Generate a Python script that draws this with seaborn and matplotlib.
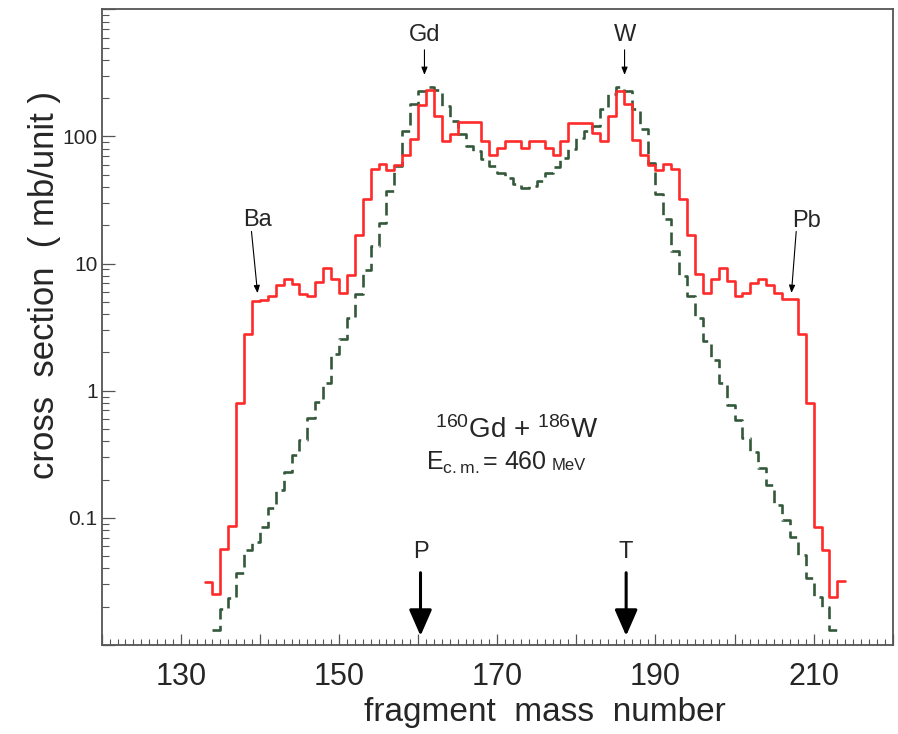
import numpy as np
import pandas as pd
import matplotlib
matplotlib.use("Agg")
import matplotlib.pyplot as plt
from matplotlib.ticker import FixedLocator, MultipleLocator, LogLocator, NullFormatter
import seaborn as sns

# ---------------- data ----------------
# measured (red, solid): bins of width 1, left edges at these mass numbers
red_mass = list(range(133, 214))
red_xs = [0.031, 0.025, 0.057, 0.086, 0.80, 2.8, 5.1, 5.2, 5.6, 6.8,
          7.6, 6.9, 5.8, 5.6, 7.2, 9.3, 7.6, 5.9, 8.1, 16.8,
          32.4, 55, 61, 54, 60, 72, 95, 178, 230, 145,
          92, 104, 130, 130, 130, 92, 72, 81, 92, 92,
          81, 92, 92, 81, 71, 92, 128, 128, 128, 107,
          92, 145, 228, 181, 94, 71, 60, 54, 61, 55,
          32, 16.8, 8.3, 5.9, 7.6, 9.3, 7.3, 5.6, 5.9, 7.0,
          7.5, 6.8, 5.9, 5.3, 5.3, 2.8, 0.80, 0.085, 0.056, 0.024,
          0.032]

# calculation (green, dashed)
calc_mass = list(range(134, 213))
calc_xs = [0.0131, 0.0192, 0.0234, 0.0367, 0.0557, 0.0643, 0.0844, 0.119, 0.165, 0.228,
           0.310, 0.406, 0.605, 0.808, 1.14, 1.96, 2.57, 3.76, 5.79, 8.94,
           13.8, 20.9, 37.3, 58.6, 110, 180, 227, 244, 231, 173,
           132, 104, 84, 77, 66.5, 58.6, 51.6, 47.1, 42.3, 39.4,
           40.8, 44.7, 51.6, 57.5, 67.7, 79.6, 97.1, 110, 121, 164,
           215, 244, 227, 164, 114, 61.8, 35.3, 22.5, 12.6, 8.02,
           5.59, 3.76, 2.48, 1.73, 1.16, 0.765, 0.584, 0.422, 0.327, 0.245,
           0.180, 0.126, 0.0957, 0.0704, 0.0509, 0.0336, 0.0238, 0.0199, 0.0131]

x_tick_values = [120, 130, 140, 150, 160, 170, 180, 190, 200, 210, 220]
x_tick_labels = ["", "130", "", "150", "", "170", "", "190", "", "210", ""]
y_tick_values = [0.01, 0.1, 1, 10, 100, 1000]
y_tick_labels = ["", "0.1", "1", "10", "100", ""]

# ---------------- styling ----------------
sns.set_theme(style="white")
plt.rcParams["font.family"] = ["Liberation Sans", "DejaVu Sans"]
plt.rcParams["mathtext.fontset"] = "custom"
plt.rcParams["mathtext.rm"] = "Liberation Sans"
plt.rcParams["mathtext.it"] = "Liberation Sans:italic"
plt.rcParams["mathtext.bf"] = "Liberation Sans:bold"

RED = "#ff2a2a"
GREEN = "#34593a"
SPINE = "#555555"

fig = plt.figure(figsize=(8.98, 7.34), dpi=100)
ax = fig.add_axes([0.1133, 0.1213, 0.9941 - 0.1133, 0.9873 - 0.1213])
ax.set_yscale("log")


def step_frame(mass, vals):
    # steps-post needs the right edge of the last bin repeated
    xs = list(mass) + [mass[-1] + 1]
    ys = list(vals) + [vals[-1]]
    return pd.DataFrame({"mass": xs, "xs": ys})


red_df = step_frame(red_mass, red_xs)
calc_df = step_frame(calc_mass, calc_xs)

sns.lineplot(data=calc_df, x="mass", y="xs", ax=ax, color=GREEN, lw=1.9,
             linestyle=(0, (4.8, 2.4)), drawstyle="steps-post",
             estimator=None, sort=False)
sns.lineplot(data=red_df, x="mass", y="xs", ax=ax, color=RED, lw=1.9,
             drawstyle="steps-post", estimator=None, sort=False)

ax.set_xlim(120, 220)
ax.set_ylim(0.01, 1000)

# ticks
ax.xaxis.set_major_locator(FixedLocator(x_tick_values))
ax.set_xticklabels(x_tick_labels)
ax.xaxis.set_minor_locator(MultipleLocator(1))
ax.yaxis.set_major_locator(FixedLocator(y_tick_values))
ax.set_yticklabels(y_tick_labels)
ax.yaxis.set_minor_locator(LogLocator(base=10, subs=np.arange(2, 10)))
ax.yaxis.set_minor_formatter(NullFormatter())

ax.tick_params(axis="x", which="major", direction="in", length=8, width=0.9,
               color=SPINE, labelsize=22, pad=12, bottom=True, top=False)
ax.tick_params(axis="x", which="minor", direction="in", length=4, width=0.8,
               color=SPINE, bottom=True, top=False)
ax.tick_params(axis="y", which="major", direction="in", length=9, width=0.9,
               color=SPINE, labelsize=15, pad=3, left=True, right=False)
ax.tick_params(axis="y", which="minor", direction="in", length=5, width=0.8,
               color=SPINE, left=True, right=False)

for s in ax.spines.values():
    s.set_visible(True)
    s.set_color(SPINE)
    s.set_linewidth(1.3)

ax.set_xlabel("fragment  mass  number", fontsize=24)
ax.xaxis.set_label_coords(0.5604, -0.082)
ax.set_ylabel("cross  section  ( mb/unit )", fontsize=25)
ax.yaxis.set_label_coords(-0.052, 0.566)

# element labels with thin arrows
thin = dict(arrowstyle="-|>,head_length=0.45,head_width=0.18", color="black",
            lw=0.8, mutation_scale=10, shrinkA=0, shrinkB=0)
ax.text(160.8, 560, "Gd", ha="center", va="baseline", fontsize=17)
ax.annotate("", xy=(160.8, 305), xytext=(160.8, 480), arrowprops=thin)
ax.text(186.1, 560, "W", ha="center", va="baseline", fontsize=17)
ax.annotate("", xy=(186.1, 305), xytext=(186.1, 480), arrowprops=thin)
ax.text(139.75, 19.8, "Ba", ha="center", va="baseline", fontsize=17)
ax.annotate("", xy=(139.7, 5.85), xytext=(138.93, 17.9), arrowprops=thin)
ax.text(209.1, 19.5, "Pb", ha="center", va="baseline", fontsize=17)
ax.annotate("", xy=(207.2, 5.88), xytext=(207.8, 17.9), arrowprops=thin)

# projectile / target markers
thick = dict(arrowstyle="-|>,head_length=0.8,head_width=0.35", color="black",
             lw=2.2, mutation_scale=20, shrinkA=0, shrinkB=0)
for m, lab in [(160, "P"), (186, "T")]:
    ax.text(m + 0.3, 0.0484, lab, ha="center", va="baseline", fontsize=17)
    ax.annotate("", xy=(m + 0.3, 0.0118), xytext=(m + 0.3, 0.037), arrowprops=thick)

# reaction text
ax.text(172.5, 0.425, r"$\mathregular{^{160}}$Gd + $\mathregular{^{186}}$W",
        ha="center", va="baseline", fontsize=20)
t2 = ax.text(161.0, 0.238, r"E$\mathregular{_{c.m.}}$= 460", ha="left",
             va="baseline", fontsize=18)
fig.canvas.draw()
bb = t2.get_window_extent(renderer=fig.canvas.get_renderer())
base_disp = ax.transData.transform((161.0, 0.238))
mev_x = ax.transData.inverted().transform((bb.x1 + 5, base_disp[1]))[0]
ax.text(mev_x, 0.238, "MeV", ha="left", va="baseline", fontsize=12)

fig.savefig("out.png", dpi=100)
